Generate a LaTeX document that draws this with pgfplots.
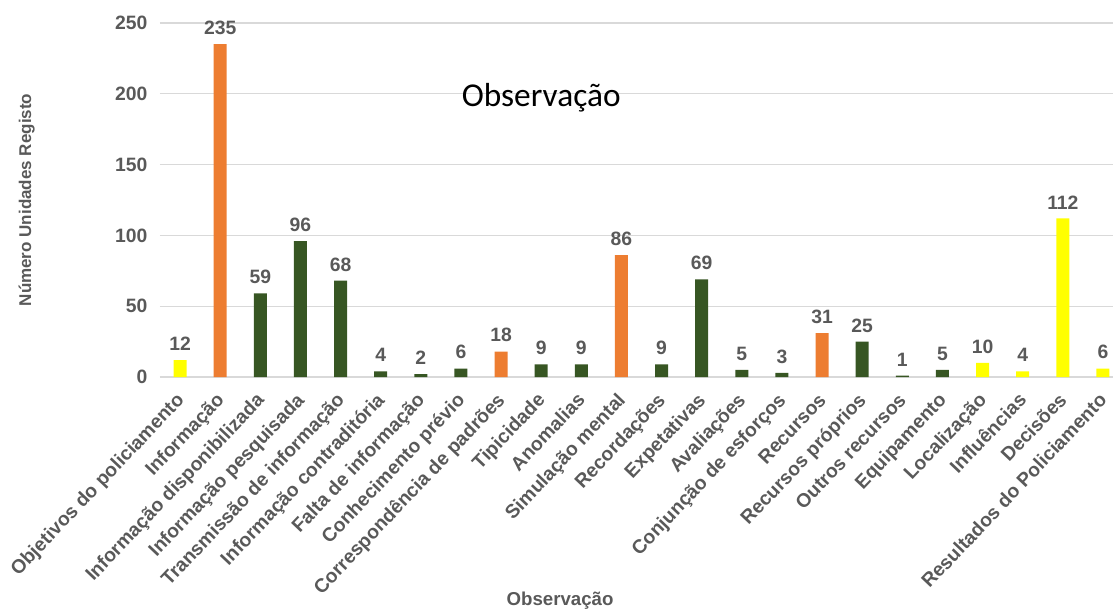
\documentclass[border=0pt]{standalone}
\usepackage{fontspec}
\setmainfont{Liberation Sans}
\newfontfamily\titlefont{Carlito}
\usepackage{pgfplots}
\pgfplotsset{compat=1.18}

\definecolor{txtgray}{HTML}{595959}
\definecolor{gridgray}{HTML}{D9D9D9}
\definecolor{barY}{HTML}{FFFF00}
\definecolor{barO}{HTML}{ED7D31}
\definecolor{barG}{HTML}{375623}

\newcommand{\lbl}{\bfseries\fontsize{14.5}{17}\selectfont}

\begin{document}
\begin{tikzpicture}
\begin{axis}[
  name=ax,
  scale only axis,
  width=714.75pt, height=265.5pt,
  xmin=-0.5, xmax=23.25,
  ymin=0, ymax=250,
  ytick={0,50,...,250},
  xtick={0,...,23},
  xticklabels={Objetivos do policiamento, Informação, Informação disponibilizada,
    Informação pesquisada, Transmissão de informação, Informação contraditória,
    Falta de informação, Conhecimento prévio, Correspondência de padrões,
    Tipicidade, Anomalias, Simulação mental, Recordações, Expetativas,
    Avaliações, Conjunção de esforços, Recursos, Recursos próprios,
    Outros recursos, Equipamento, Localização, Influências, Decisões,
    Resultados do Policiamento},
  major tick length=0pt,
  axis line style={draw=none},
  ymajorgrids,
  grid style={gridgray, line width=0.9pt},
  /pgf/number format/assume math mode=true,
  yticklabel style={font=\lbl, text=txtgray, xshift=-6pt},
  xticklabel style={font=\lbl, text=txtgray, xshift=3.75pt, yshift=-18pt,
    rotate=46.5, anchor=base east, inner sep=0pt},
  ybar, bar width=9.75pt, bar shift=0pt,
  nodes near coords,
  every node near coord/.append style={font=\lbl, text=txtgray, yshift=3.5pt},
  clip=false,
]
% Objetivos / Resultados do policiamento
\addplot[draw=none, fill=barY] coordinates {(0,12) (20,10) (21,4) (22,112) (23,6)};
% Informação, padrões, simulação, recursos
\addplot[draw=none, fill=barO] coordinates {(1,235) (8,18) (11,86) (16,31)};
% Subcategorias
\addplot[draw=none, fill=barG] coordinates {(2,59) (3,96) (4,68) (5,4) (6,2) (7,6)
  (9,9) (10,9) (12,9) (13,69) (14,5) (15,3) (17,25) (18,1) (19,5)};

\node[font=\titlefont\fontsize{25}{30}\selectfont, text=black] at (axis cs:9,197) {Observação};
\node[rotate=90, font=\bfseries\fontsize{12.75}{15}\selectfont, text=txtgray]
  at ([xshift=-100pt]rel axis cs:0,0.5) {Número Unidades Registo};
\node[font=\bfseries\fontsize{14}{16}\selectfont, text=txtgray]
  at ([yshift=-168pt]axis cs:9.47,0) {Observação};
\end{axis}
\pgfresetboundingbox
\path ([shift={(-120pt,-174.75pt)}]ax.south west) rectangle ([shift={(0pt,17.25pt)}]ax.north east);
\end{tikzpicture}
\end{document}
